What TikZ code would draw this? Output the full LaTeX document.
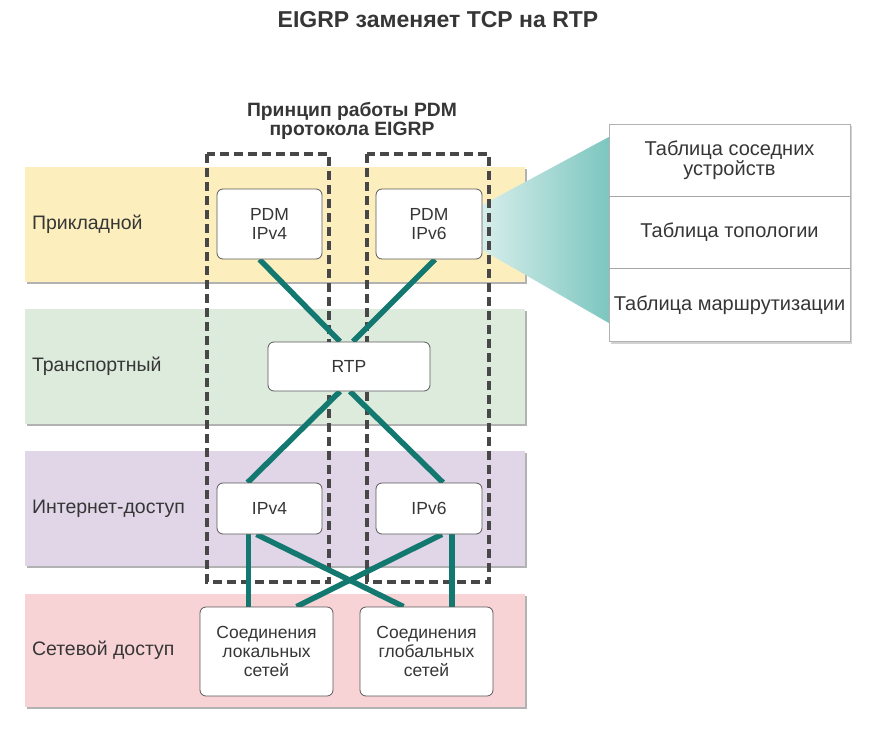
\documentclass[tikz,border=0pt]{standalone}
\usepackage{fontspec}
\setmainfont{Liberation Sans}
\usetikzlibrary{positioning}

\definecolor{textgray}{HTML}{363636}
\definecolor{bandyellow}{HTML}{FCEFBD}
\definecolor{bandgreen}{HTML}{DDEBDD}
\definecolor{bandviolet}{HTML}{E0D6E7}
\definecolor{bandpink}{HTML}{F8D3D6}
\definecolor{linkteal}{HTML}{13786F}
\definecolor{fanlight}{HTML}{D6EEEB}
\definecolor{fandark}{HTML}{7DC6C0}

\pgfdeclarelayer{bands}
\pgfdeclarelayer{links}
\pgfsetlayers{bands,links,main}

\begin{document}
\begin{tikzpicture}[
    x=1pt, y=-1pt,
    every node/.style={text=textgray},
    band/.style={fill=#1, minimum width=500pt, minimum height=115pt, inner sep=0pt,
        preaction={fill=black!30, transform canvas={shift={(1.5pt,-2pt)}}}},
    layer/.style={font=\fontsize{19.5}{22}\selectfont, inner sep=0pt},
    box/.style={draw=black!65, line width=0.8pt, rounded corners=6pt, fill=white,
        align=center, inner sep=0pt, font=\fontsize{17.5}{19}\selectfont},
    pdmframe/.style={draw=black!72, line width=3.2pt, dash pattern=on 9pt off 5pt},
    conn/.style={draw=linkteal, line width=5.5pt},
    tabrow/.style={minimum width=241pt, minimum height=72pt, inner sep=0pt, align=center,
        font=\fontsize{20}{20}\selectfont}
]

% bounding box
\useasboundingbox (0,0) rectangle (870,731);

% заголовки
\node[font=\bfseries\fontsize{23}{25}\selectfont] (title) at (438,20) {EIGRP заменяет TCP на RTP};
\node[font=\bfseries\fontsize{19.3}{19}\selectfont, align=center] (sub) at (352,121) {Принцип работы PDM\\протокола EIGRP};

% блоки
\node[box, minimum width=105pt, minimum height=70pt] (pdm4) at (269.5,224) {PDM\\IPv4};
\node[box, minimum width=106pt, minimum height=70pt] (pdm6) at (429,224) {PDM\\IPv6};
\node[box, minimum width=162pt, minimum height=49pt] (rtp) at (349,366.5) {RTP};
\node[box, minimum width=105pt, minimum height=51pt] (ip4) at (269.5,508.5) {IPv4};
\node[box, minimum width=106pt, minimum height=51pt] (ip6) at (429,508.5) {IPv6};
\node[box, minimum width=133pt, minimum height=89pt] (lan) at (266.5,651.5) {Соединения\\локальных\\сетей};
\node[box, minimum width=133pt, minimum height=89pt] (wan) at (426.5,651.5) {Соединения\\глобальных\\сетей};

% таблицы
\node[tabrow] (nbr) at (729.5,160) {Таблица соседних\\устройств};
\node[tabrow, below=0pt of nbr] (topo) {Таблица топологии};
\node[tabrow, below=0pt of topo] (route) {Таблица маршрутизации};
\draw[black!35, line width=0.6pt] (nbr.south west) -- (nbr.south east);
\draw[black!35, line width=0.6pt] (topo.south west) -- (topo.south east);

\begin{pgfonlayer}{bands}
% уровни
\node[band=bandyellow] (appl) at (275,224.5) {};
\node[band=bandgreen] (trans) at (275,366.5) {};
\node[band=bandviolet] (inet) at (275,508.5) {};
\node[band=bandpink, minimum height=113pt] (netacc) at (275,650.5) {};

\node[layer, right=7pt of appl.west] {Прикладной};
\node[layer, right=7pt of trans.west] {Транспортный};
\node[layer, right=7pt of inet.west] {Интернет-доступ};
\node[layer, right=7pt of netacc.west] {Сетевой доступ};

% веер к таблицам
\shade[left color=fanlight, right color=fandark] (pdm6.east |- 0,205) -- (nbr.north west |- 0,137)
    -- (nbr.north west |- 0,323) -- (pdm6.east |- 0,250) -- cycle;
\fill[black!25, opacity=0.7] ([shift={(2pt,-2.5pt)}]nbr.north west) rectangle ([shift={(2pt,-2.5pt)}]route.south east);
\draw[black!30, line width=0.6pt, fill=white] (nbr.north west) rectangle (route.south east);

% рамки PDM
\draw[pdmframe] (207,154) rectangle (329,582);
\draw[pdmframe] (367,154) rectangle (489,582);
\end{pgfonlayer}

% связи
\begin{pgfonlayer}{links}
\draw[conn] ([xshift=-10pt]pdm4.south) -- ([xshift=-9pt]rtp.north);
\draw[conn] ([xshift=6pt]pdm6.south) -- ([xshift=4pt]rtp.north);
\draw[conn] ([xshift=-9pt]rtp.south) -- ([xshift=-22pt]ip4.north);
\draw[conn] ([xshift=1pt]rtp.south) -- ([xshift=14pt]ip6.north);
\draw[conn] ([xshift=-21pt]ip4.south) -- ([xshift=-21pt]ip4.south |- lan.north);
\draw[conn] ([xshift=-13pt]ip4.south) -- ([xshift=-23pt]wan.north);
\draw[conn] ([xshift=13pt]ip6.south) -- ([xshift=30pt]lan.north);
\draw[conn] ([xshift=23pt]ip6.south) -- ([xshift=23pt]ip6.south |- wan.north);
\end{pgfonlayer}

\end{tikzpicture}
\end{document}
